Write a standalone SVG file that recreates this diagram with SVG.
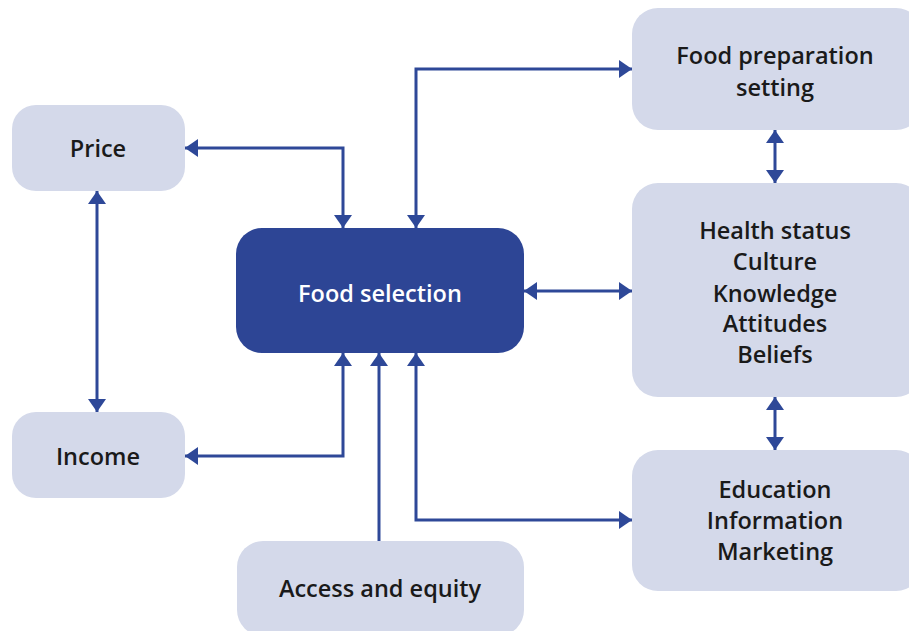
<svg xmlns="http://www.w3.org/2000/svg" width="909" height="631" viewBox="0 0 909 631">
<defs>
<marker id="ah" viewBox="0 0 13 18" refX="13" refY="9" markerWidth="13" markerHeight="18" markerUnits="userSpaceOnUse" orient="auto-start-reverse">
<path d="M0,0 L13,9 L0,18 Z" fill="#2e4898"/>
</marker>
<style>
.box{fill:#d4d9ea}
.main{fill:#2d4595}
.t{font-family:"Open Sans","Liberation Sans",sans-serif;font-weight:600;font-size:23.5px;fill:#1a1a1a;text-anchor:middle}
.tw{fill:#ffffff}
.c{fill:none;stroke:#2e4898;stroke-width:3;marker-end:url(#ah)}
.b{marker-start:url(#ah)}
</style>
</defs>
<rect width="909" height="631" fill="#ffffff"/>
<g id="connectors">
<path class="c b" d="M185,148 H343 V228"/>
<path class="c b" d="M97,191 V412"/>
<path class="c b" d="M343,353 V456 H185"/>
<path class="c b" d="M416,228 V69 H632"/>
<path class="c" d="M379,541 V353"/>
<path class="c b" d="M416,353 V520 H632"/>
<path class="c b" d="M524,291 H632"/>
<path class="c b" d="M775,130 V183"/>
<path class="c b" d="M775,397 V450"/>
</g>
<g id="price"><rect class="box" x="12" y="105" width="173" height="86" rx="24"/><text class="t" x="98" y="157">Price</text></g>
<g id="income"><rect class="box" x="12" y="412" width="173" height="86" rx="24"/><text class="t" x="98" y="465">Income</text></g>
<g id="food-selection"><rect class="main" x="236" y="228" width="288" height="125" rx="26"/><text class="t tw" x="380" y="302">Food selection</text></g>
<g id="access"><rect class="box" x="237" y="541" width="287" height="95" rx="26"/><text class="t" x="380" y="597">Access and equity</text></g>
<g id="food-prep"><rect class="box" x="632" y="8" width="290" height="122" rx="26"/><text class="t" x="775" y="64">Food preparation</text><text class="t" x="775" y="96">setting</text></g>
<g id="health"><rect class="box" x="632" y="183" width="290" height="214" rx="26"/><text class="t" x="775" y="239">Health status</text><text class="t" x="775" y="270">Culture</text><text class="t" x="775" y="302">Knowledge</text><text class="t" x="775" y="332">Attitudes</text><text class="t" x="775" y="363">Beliefs</text></g>
<g id="education"><rect class="box" x="632" y="450" width="290" height="141" rx="26"/><text class="t" x="775" y="498">Education</text><text class="t" x="775" y="529">Information</text><text class="t" x="775" y="560">Marketing</text></g>
</svg>
